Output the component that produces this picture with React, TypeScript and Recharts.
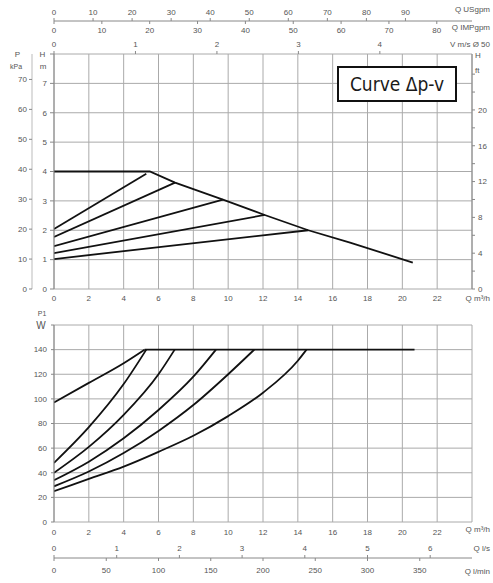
import { LineChart, Line, XAxis, YAxis, CartesianGrid } from "recharts";

const FONT = "'Liberation Sans', Arial, sans-serif";
const INK = "#111";
const GRID = "#aaa";
const AXIS = "#888";
const TXT = "#555";

// axis ticks
const qTicks = [0, 2, 4, 6, 8, 10, 12, 14, 16, 18, 20, 22, 24];
const hTicks = [0, 1, 2, 3, 4, 5, 6, 7, 8];
const kpaTicks = [0, 10, 20, 30, 40, 50, 60, 70];
const ftTicks = [0, 2, 4, 6, 8, 10, 12, 14, 16, 18, 20, 22, 24];
const usTicks = [0, 10, 20, 30, 40, 50, 60, 70, 80, 90];
const impTicks = [0, 10, 20, 30, 40, 50, 60, 70, 80];
const vTicks = [0, 1, 2, 3, 4];
const wTicks = [0, 20, 40, 60, 80, 100, 120, 140, 160];
const lsTicks = [0, 1, 2, 3, 4, 5, 6];
const lminTicks = [0, 50, 100, 150, 200, 250, 300, 350];

// secondary scales, units per 1 m³/h as drawn
const usPerQ = 4.46;
const impPerQ = 3.64;
const vPerQ = 0.2138;
const lsPerQ = 1 / 3.6;
const lminPerQ = 1000 / 60;

// head H (m) vs Q (m³/h), curve Δp-v
const maxQ = [0, 5.5, 6.95, 9.7, 12.1, 14.6, 17, 20.6];
const maxH = [4, 4, 3.62, 3.04, 2.52, 2.0, 1.58, 0.9];
const dpStartH = [2.04, 1.77, 1.46, 1.22, 1.02];
const dpEndQ = [5.3, 6.95, 9.7, 12.1, 14.6];
const dpEndH = [3.92, 3.62, 3.04, 2.52, 2.0];

// power P1 (W) vs Q (m³/h)
const pMaxQ = [5.2, 20.7];
const pMaxW = [140, 140];
const p1Q = [0, 2, 4, 5.2];
const p1W = [97, 113, 129, 140];
const p2Q = [0, 2, 4, 5.3];
const p2W = [48, 77, 112, 140];
const p3Q = [0, 2, 4, 6, 6.93];
const p3W = [40, 61, 87, 120, 140];
const p4Q = [0, 2, 4, 6, 8, 9.3];
const p4W = [34, 49, 68, 91, 118, 140];
const p5Q = [0, 2, 4, 6, 8, 10, 11.5];
const p5W = [29, 41, 56, 74, 95, 120, 140];
const p6Q = [0, 2, 4, 6, 8, 10, 12, 14, 14.5];
const p6W = [25, 35, 45, 57, 70, 86, 105, 131, 140];

const pts = (qs: number[], vs: number[]) => qs.map((q, i) => ({ q, v: vs[i] }));

const dpMax = pts(maxQ, maxH);
const dpLines = dpStartH.map((h, i) => pts([0, dpEndQ[i]], [h, dpEndH[i]]));
const pLines = [
  pts(pMaxQ, pMaxW),
  pts(p1Q, p1W),
  pts(p2Q, p2W),
  pts(p3Q, p3W),
  pts(p4Q, p4W),
  pts(p5Q, p5W),
  pts(p6Q, p6W),
];

const toQ = (ticks: number[], per: number) => ticks.map((t) => t / per);

// tick drawn relative to the axis line; per converts m³/h back to the axis unit
const xTick = (dy: number, line?: [number, number], per = 1, skip?: number) => (p: any) => {
  const v = Math.round(p.payload.value * per * 100) / 100;
  return (
    <g>
      {line && <line x1={p.x} x2={p.x} y1={p.y + line[0]} y2={p.y + line[1]} stroke={AXIS} />}
      {v !== skip && (
        <text x={p.x} y={p.y + dy} textAnchor="middle" fontSize={8} fill={TXT} fontFamily={FONT}>
          {v}
        </text>
      )}
    </g>
  );
};

const sideLabel = (text: string, dy: number) => (p: any) => {
  const vb = p.viewBox;
  return (
    <text x={vb.x + vb.width + 18} y={vb.y + vb.height / 2 + dy} textAnchor="end" fontSize={8} fill={TXT} fontFamily={FONT}>
      {text}
    </text>
  );
};

const unitLabel = (rows: { t: string; dx: number; dy: number; size: number }[], anchor = "middle") => (p: any) => {
  const vb = p.viewBox;
  return (
    <text fill={TXT} fontFamily={FONT} textAnchor={anchor}>
      {rows.map((r, i) => (
        <tspan key={i} x={vb.x + r.dx} y={vb.y + r.dy} fontSize={r.size}>
          {r.t}
        </tspan>
      ))}
    </text>
  );
};

const yTick = { fontSize: 8, fill: TXT, fontFamily: FONT };
const hideAt = (last: number) => (v: number) => (v === last ? "" : String(v));

const qAxis = {
  dataKey: "q",
  type: "number" as const,
  scale: "linear" as const,
  domain: [0, 24],
  allowDataOverflow: true,
  interval: 0,
  tickLine: false,
  tickSize: 0,
  tickMargin: 0,
};

// axes with the same orientation are stacked by id: a_ is next to the plot
const HeadChart = () => (
  <LineChart width={493} height={306} data={dpMax} margin={{ top: 0, right: 0, bottom: 0, left: 0 }}>
    <CartesianGrid xAxisId="q" yAxisId="h" stroke={GRID} />
    <XAxis
      {...qAxis}
      xAxisId="q"
      ticks={qTicks}
      height={17}
      axisLine={false}
      tick={xTick(12, undefined, 1, 24)}
      label={sideLabel("Q m³/h", 3)}
    />
    <XAxis
      {...qAxis}
      xAxisId="a_v"
      orientation="top"
      ticks={toQ(vTicks, vPerQ)}
      height={21}
      axisLine={false}
      tick={xTick(-7, [-3, 0], vPerQ)}
      label={sideLabel("V m/s Ø 50", 3)}
    />
    <XAxis
      {...qAxis}
      xAxisId="b_imp"
      orientation="top"
      ticks={toQ(impTicks, impPerQ)}
      height={12}
      axisLine={false}
      tick={xTick(0, [-12, -9], impPerQ)}
      label={sideLabel("Q IMPgpm", 3)}
    />
    <XAxis
      {...qAxis}
      xAxisId="c_us"
      orientation="top"
      ticks={toQ(usTicks, usPerQ)}
      height={21}
      axisLine={{ stroke: AXIS }}
      tick={xTick(-6, [-3, 0], usPerQ)}
      label={sideLabel("Q USgpm", 1)}
    />
    <YAxis
      yAxisId="h"
      type="number"
      scale="linear"
      domain={[0, 8]}
      allowDataOverflow
      ticks={hTicks}
      interval={0}
      width={22}
      tickSize={4}
      tickMargin={3}
      axisLine={{ stroke: AXIS }}
      tickLine={{ stroke: AXIS }}
      tick={yTick}
      tickFormatter={hideAt(8)}
      label={unitLabel([
        { t: "H", dx: 10.5, dy: 3, size: 8 },
        { t: "m", dx: 11, dy: 15, size: 8 },
      ])}
    />
    <YAxis
      yAxisId="kpa"
      type="number"
      scale="linear"
      domain={[0, 78.5]}
      allowDataOverflow
      ticks={kpaTicks}
      interval={0}
      width={32}
      tickSize={3}
      tickMargin={2}
      axisLine={{ stroke: "#bbb" }}
      tickLine={{ stroke: AXIS }}
      tick={yTick}
      label={unitLabel([
        { t: "P", dx: 17.5, dy: 3, size: 8 },
        { t: "kPa", dx: 16, dy: 15, size: 7 },
      ])}
    />
    <YAxis
      yAxisId="ft"
      orientation="right"
      type="number"
      scale="linear"
      domain={[0, 26.25]}
      allowDataOverflow
      ticks={ftTicks}
      interval={0}
      width={21}
      tickSize={3}
      tickMargin={3}
      axisLine={{ stroke: AXIS }}
      tickLine={{ stroke: AXIS }}
      tick={yTick}
      tickFormatter={(v: number) => (v % 4 === 0 && v <= 20 ? String(v) : "")}
      label={unitLabel(
        [
          { t: "H", dx: 3, dy: 4, size: 8 },
          { t: "ft", dx: 3, dy: 19, size: 8 },
        ],
        "start"
      )}
    />
    <Line
      data={dpMax}
      dataKey="v"
      xAxisId="q"
      yAxisId="h"
      type="linear"
      stroke={INK}
      strokeWidth={1.8}
      dot={false}
      activeDot={false}
      isAnimationActive={false}
    />
    {dpLines.map((d, i) => (
      <Line
        key={i}
        data={d}
        dataKey="v"
        xAxisId="q"
        yAxisId="h"
        type="linear"
        stroke={INK}
        strokeWidth={1.8}
        dot={false}
        activeDot={false}
        isAnimationActive={false}
      />
    ))}
  </LineChart>
);

const PowerChart = () => (
  <LineChart width={493} height={277} data={pLines[0]} margin={{ top: 19, right: 21, bottom: 0, left: 0 }}>
    <CartesianGrid xAxisId="a_q" yAxisId="w" stroke={GRID} />
    <XAxis
      {...qAxis}
      xAxisId="a_q"
      ticks={qTicks}
      height={16}
      axisLine={false}
      tick={xTick(13, undefined, 1, 24)}
      label={sideLabel("Q m³/h", 2)}
    />
    <XAxis
      {...qAxis}
      xAxisId="b_ls"
      ticks={toQ(lsTicks, lsPerQ)}
      height={20}
      axisLine={false}
      tick={xTick(13, [17, 20], lsPerQ)}
      label={sideLabel("Q l/s", 3)}
    />
    <XAxis
      {...qAxis}
      xAxisId="c_lmin"
      ticks={toQ(lminTicks, lminPerQ)}
      height={25}
      axisLine={{ stroke: AXIS }}
      tick={xTick(15, [0, 3], lminPerQ)}
      label={sideLabel("Q l/min", 3)}
    />
    <YAxis
      yAxisId="w"
      type="number"
      scale="linear"
      domain={[0, 160]}
      allowDataOverflow
      ticks={wTicks}
      interval={0}
      width={54}
      tickSize={3}
      tickMargin={4}
      axisLine={{ stroke: AXIS }}
      tickLine={{ stroke: AXIS }}
      tick={yTick}
      tickFormatter={hideAt(160)}
      label={unitLabel([
        { t: "P1", dx: 42, dy: -9, size: 7 },
        { t: "W", dx: 41, dy: 4, size: 10 },
      ])}
    />
    {pLines.map((d, i) => (
      <Line
        key={i}
        data={d}
        dataKey="v"
        xAxisId="a_q"
        yAxisId="w"
        type={i === 0 ? "linear" : "monotone"}
        stroke={INK}
        strokeWidth={1.8}
        dot={false}
        activeDot={false}
        isAnimationActive={false}
      />
    ))}
  </LineChart>
);

export default function App() {
  return (
    <div style={{ position: "absolute", left: 0, top: 0, width: 493, height: 583, background: "#fff" }}>
      <div style={{ position: "absolute", left: 0, top: 0 }}>
        <HeadChart />
      </div>
      <div style={{ position: "absolute", left: 0, top: 306 }}>
        <PowerChart />
      </div>
      <div
        style={{
          position: "absolute",
          left: 337,
          top: 66,
          width: 120,
          height: 36,
          boxSizing: "border-box",
          border: "2.5px solid #111",
          background: "#fff",
          display: "flex",
          alignItems: "center",
          justifyContent: "center",
          fontFamily: "'Liberation Sans Narrow', 'DejaVu Sans Condensed', 'DejaVu Sans', sans-serif",
          fontStretch: "condensed",
          fontSize: 19,
          color: "#1a1a1a",
        }}
      >
        Curve Δp-v
      </div>
    </div>
  );
}
